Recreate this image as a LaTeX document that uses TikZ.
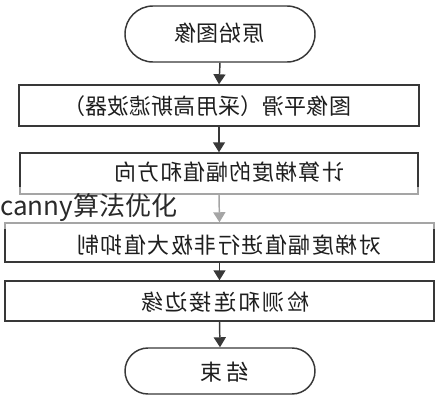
\documentclass[tikz,border=0pt]{standalone}
\usepackage{graphicx}
\usepackage{fontspec}
\newfontfamily\cjk{Noto Sans CJK SC}
\usetikzlibrary{arrows.meta}
\definecolor{lineC}{HTML}{383838}
\definecolor{textC}{HTML}{1E1E1E}
\definecolor{wmC}{HTML}{2A2A2A}
\ExplSyntaxOn
\NewDocumentCommand\mtext{mm}
 {
  \scalebox{-1}[1]{\makebox[#1][s]{ \tl_map_inline:nn {#2} { ##1 \hfil } \unskip }}
 }
\ExplSyntaxOff
\tikzset{
  flowbox/.style={draw=lineC, line width=1.1pt, fill=white, inner sep=0pt},
  termbox/.style={flowbox, rounded corners=#1},
  lbl/.style={inner sep=0pt, text=textC, font=\cjk\fontsize{16.5pt}{19pt}\selectfont},
  flow/.style={draw=lineC, line width=1.1pt, -{Triangle[width=9pt,length=7.5pt]}},
  wm/.style={inner sep=0pt, text=wmC, font=\cjk\fontsize{19.5pt}{22pt}\selectfont}
}
\begin{document}
\begin{tikzpicture}[x=0.75pt,y=-0.75pt]
\useasboundingbox (0,0) rectangle (439,400);
\fill[white] (0,0) rectangle (439,400);
% boxes
\node[termbox=21pt, minimum width=142.5pt, minimum height=42pt] (start) at (220,34) {};
\node[flowbox, minimum width=300pt, minimum height=30.75pt] (b2) at (219,105.5) {};
\node[flowbox, minimum width=298.5pt, minimum height=30.75pt] (b3) at (219,173.5) {};
\node[flowbox, minimum width=321.75pt, minimum height=29.25pt] (b4) at (219.5,242.5) {};
\node[flowbox, minimum width=321.75pt, minimum height=30pt] (b5) at (219.5,301) {};
\node[termbox=17.25pt, minimum width=142.5pt, minimum height=34.5pt] (end) at (220,371) {};
% labels (mirrored as in the picture)
\node[lbl] (t1) at (219,33) {\mtext{67.5pt}{原始图像}};
\node[lbl] (t2) at (207,106) {\mtext{216pt}{图像平滑（采用高斯滤波器）}};
\node[lbl] (t3) at (229,172.5) {\mtext{172.5pt}{计算梯度的幅值和方向}};
\node[lbl] (t4) at (229,245) {\mtext{228pt}{对梯度幅值进行非极大值抑制}};
\node[lbl] (t5) at (225,302) {\mtext{126pt}{检测和连接边缘}};
\node[lbl] (t6) at (224,372) {\mtext{36pt}{结束}};
% connectors
\draw[flow] (start.south) -- (b2.north);
\draw[flow] (b2.south) -- (b3.north);
\draw[flow] (b3.south) -- (b4.north);
\draw[flow] (b4.south) -- (b5.north);
\draw[flow] (b5.south) -- (end.north);
% faded band behind the watermark
\fill[white, opacity=0.55] (0,187) rectangle (439,229);
\node[wm, anchor=base west] (wmark) at (0,215) {canny算法优化};
\end{tikzpicture}
\end{document}
